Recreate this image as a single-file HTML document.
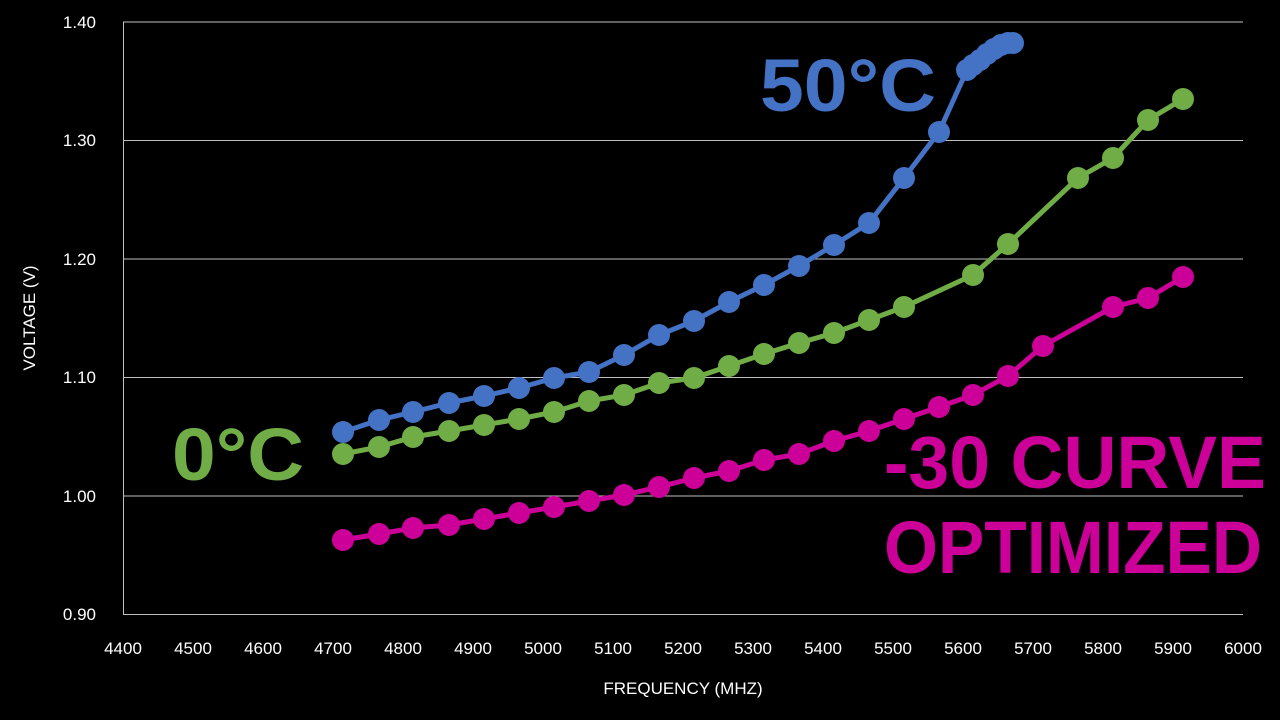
<!DOCTYPE html>
<html><head><meta charset="utf-8"><style>
html,body{margin:0;padding:0;background:#000;}
svg{display:block;}
text{font-family:"Liberation Sans",sans-serif;}
</style></head><body>
<svg width="1280" height="720" viewBox="0 0 1280 720" xmlns="http://www.w3.org/2000/svg">
<rect width="1280" height="720" fill="#000"/>
<g stroke="#bfbfbf" stroke-width="1">
<line x1="123" y1="22" x2="1243" y2="22"/>
<line x1="123" y1="140.5" x2="1243" y2="140.5"/>
<line x1="123" y1="259" x2="1243" y2="259"/>
<line x1="123" y1="377.5" x2="1243" y2="377.5"/>
<line x1="123" y1="496" x2="1243" y2="496"/>
<line x1="123" y1="614.5" x2="1243" y2="614.5"/>
<line x1="123.5" y1="22" x2="123.5" y2="614"/>
</g>
<g fill="#fff" font-size="17" text-anchor="end">
<text x="96" y="28">1.40</text><text x="96" y="146">1.30</text><text x="96" y="265">1.20</text>
<text x="96" y="383">1.10</text><text x="96" y="502">1.00</text><text x="96" y="620">0.90</text>
</g>
<g fill="#fff" font-size="17" text-anchor="middle">
<text x="123" y="654">4400</text><text x="193" y="654">4500</text><text x="263" y="654">4600</text>
<text x="333" y="654">4700</text><text x="403" y="654">4800</text><text x="473" y="654">4900</text>
<text x="543" y="654">5000</text><text x="613" y="654">5100</text><text x="683" y="654">5200</text>
<text x="753" y="654">5300</text><text x="823" y="654">5400</text><text x="893" y="654">5500</text>
<text x="963" y="654">5600</text><text x="1033" y="654">5700</text><text x="1103" y="654">5800</text>
<text x="1173" y="654">5900</text><text x="1243" y="654">6000</text>
<text x="683" y="694">FREQUENCY (MHZ)</text>
<text transform="translate(35,318) rotate(-90)">VOLTAGE (V)</text>
</g>
<g id="blue" fill="#4472C4" stroke="#4472C4">
<polyline fill="none" stroke-width="5" points="343,432 379,420 413,412 449,403 484,396 519,388 554,378 589,372 624,355 659,335 694,321 729,302 764,285 799,266 834,245 869,223 904,178 939,132 967,70 973,65 980,60 987,54 994,49 1001,45 1008,43 1013,43"/>
<g stroke="none">
<circle cx="343" cy="432" r="11"/><circle cx="379" cy="420" r="11"/><circle cx="413" cy="412" r="11"/><circle cx="449" cy="403" r="11"/><circle cx="484" cy="396" r="11"/><circle cx="519" cy="388" r="11"/><circle cx="554" cy="378" r="11"/><circle cx="589" cy="372" r="11"/><circle cx="624" cy="355" r="11"/><circle cx="659" cy="335" r="11"/><circle cx="694" cy="321" r="11"/><circle cx="729" cy="302" r="11"/><circle cx="764" cy="285" r="11"/><circle cx="799" cy="266" r="11"/><circle cx="834" cy="245" r="11"/><circle cx="869" cy="223" r="11"/><circle cx="904" cy="178" r="11"/><circle cx="939" cy="132" r="11"/><circle cx="967" cy="70" r="11"/><circle cx="973" cy="65" r="11"/><circle cx="980" cy="60" r="11"/><circle cx="987" cy="54" r="11"/><circle cx="994" cy="49" r="11"/><circle cx="1001" cy="45" r="11"/><circle cx="1008" cy="43" r="11"/><circle cx="1013" cy="43" r="11"/>
</g></g>
<g fill="#70AD47" stroke="#70AD47">
<polyline fill="none" stroke-width="5" points="343,454 379,447 413,437 449,431 484,425 519,419 554,412 589,401 624,395 659,383 694,378 729,366 764,354 799,343 834,333 869,320 904,307 973,275 1008,244 1078,178 1113,158 1148,120 1183,99"/>
<g stroke="none">
<circle cx="343" cy="454" r="11"/><circle cx="379" cy="447" r="11"/><circle cx="413" cy="437" r="11"/><circle cx="449" cy="431" r="11"/><circle cx="484" cy="425" r="11"/><circle cx="519" cy="419" r="11"/><circle cx="554" cy="412" r="11"/><circle cx="589" cy="401" r="11"/><circle cx="624" cy="395" r="11"/><circle cx="659" cy="383" r="11"/><circle cx="694" cy="378" r="11"/><circle cx="729" cy="366" r="11"/><circle cx="764" cy="354" r="11"/><circle cx="799" cy="343" r="11"/><circle cx="834" cy="333" r="11"/><circle cx="869" cy="320" r="11"/><circle cx="904" cy="307" r="11"/><circle cx="973" cy="275" r="11"/><circle cx="1008" cy="244" r="11"/><circle cx="1078" cy="178" r="11"/><circle cx="1113" cy="158" r="11"/><circle cx="1148" cy="120" r="11"/><circle cx="1183" cy="99" r="11"/>
</g></g>
<g fill="#CC0099" stroke="#CC0099">
<polyline fill="none" stroke-width="5" points="343,540 379,534 413,528 449,525 484,519 519,513 554,507 589,501 624,495 659,487 694,478 729,471 764,460 799,454 834,441 869,431 904,419 939,407 973,395 1008,376 1043,346 1113,307 1148,298 1183,277"/>
<g stroke="none">
<circle cx="343" cy="540" r="11"/><circle cx="379" cy="534" r="11"/><circle cx="413" cy="528" r="11"/><circle cx="449" cy="525" r="11"/><circle cx="484" cy="519" r="11"/><circle cx="519" cy="513" r="11"/><circle cx="554" cy="507" r="11"/><circle cx="589" cy="501" r="11"/><circle cx="624" cy="495" r="11"/><circle cx="659" cy="487" r="11"/><circle cx="694" cy="478" r="11"/><circle cx="729" cy="471" r="11"/><circle cx="764" cy="460" r="11"/><circle cx="799" cy="454" r="11"/><circle cx="834" cy="441" r="11"/><circle cx="869" cy="431" r="11"/><circle cx="904" cy="419" r="11"/><circle cx="939" cy="407" r="11"/><circle cx="973" cy="395" r="11"/><circle cx="1008" cy="376" r="11"/><circle cx="1043" cy="346" r="11"/><circle cx="1113" cy="307" r="11"/><circle cx="1148" cy="298" r="11"/><circle cx="1183" cy="277" r="11"/>
</g></g>
<g font-weight="bold" font-size="74">
<text x="760" y="111" fill="#4472C4" textLength="176" lengthAdjust="spacingAndGlyphs">50°C</text>
<text x="172" y="480" fill="#70AD47" textLength="132" lengthAdjust="spacingAndGlyphs">0°C</text>
<text x="884" y="488" fill="#CC0099" textLength="382" lengthAdjust="spacingAndGlyphs">-30 CURVE</text>
<text x="884" y="573" fill="#CC0099" textLength="378" lengthAdjust="spacingAndGlyphs">OPTIMIZED</text>
</g>
</svg>
</body></html>
